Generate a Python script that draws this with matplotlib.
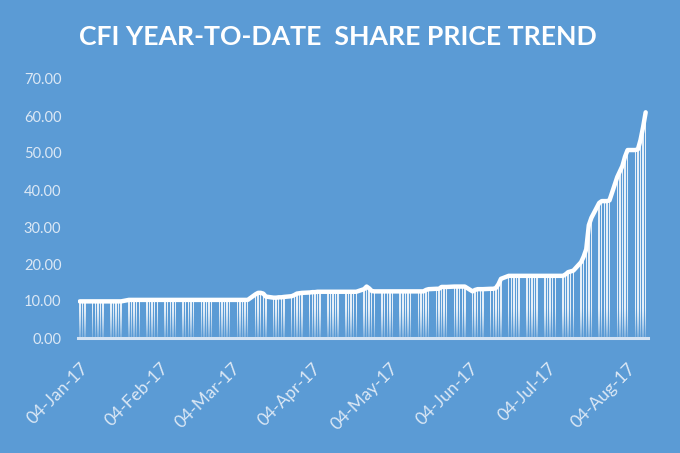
import numpy as np
import pandas as pd
import matplotlib
matplotlib.use("Agg")
import matplotlib.pyplot as plt
import matplotlib.dates as mdates
from matplotlib.colors import to_rgb

# ---- data (business days, 04-Jan-2017 .. 11-Aug-2017) ----
dates = pd.bdate_range("2017-01-04", "2017-08-11")
jan = [9.9]*13 + [10.3]*7
feb = [10.3]*20
mar = [10.3]*8 + [11.8, 12.2, 12.2, 12.0, 11.2] + [10.9, 10.9, 11.0, 11.0, 11.1] + [11.3, 11.6, 12.0, 12.1, 12.2]
apr = [12.3, 12.4, 12.4, 12.5, 12.5] + [12.5]*10 + [13.2, 13.9, 13.4, 12.7, 12.6]
may = [12.6]*10 + [12.6, 12.6, 12.6, 13.0, 13.2] + [13.3, 13.3, 13.8, 13.8, 13.8] + [13.9, 13.9, 13.9]
jun = [13.9, 13.9] + [12.6, 13.0, 13.2, 13.2, 13.2] + [13.3, 13.3, 13.5, 14.5, 16.0] + [16.8]*10
jul = [16.8]*5 + [16.8, 17.2, 17.8, 18.0, 18.2] + [20.5, 22.0, 24.0, 30.5, 32.5] + [36.5, 37.0, 37.0, 37.0, 37.2] + [43.5]
aug = [45.0, 46.5, 49.0, 50.8] + [50.8, 51.0, 53.5, 57.0, 61.0]
prices = jan + feb + mar + apr + may + jun + jul + aug

tick_dates = pd.to_datetime(["2017-01-04", "2017-02-04", "2017-03-04", "2017-04-04",
                             "2017-05-04", "2017-06-04", "2017-07-04", "2017-08-04"])
yticks = [0, 10, 20, 30, 40, 50, 60, 70]
title = "CFI YEAR-TO-DATE  SHARE PRICE TREND"

# ---- style ----
BG = "#5B9BD5"
TXT = "#DCE8F5"
font = "Lato"

fig = plt.figure(figsize=(6.8, 4.53), dpi=100, facecolor=BG)
ax = fig.add_axes([78/680, 1-338/453, (648-78)/680, (338-79)/453])
ax.set_facecolor(BG)

x = mdates.date2num(dates)
xmin = mdates.date2num(pd.Timestamp("2017-01-04")) - 0.7
xmax = mdates.date2num(pd.Timestamp("2017-08-11")) + 0.9

ax.bar(x, prices, width=0.55, color="white", alpha=0.85, linewidth=0, zorder=2)

# fading overlay near the base of the bars
n = 256
bg = np.array(to_rgb(BG))
grad = np.zeros((n, 2, 4))
grad[..., :3] = bg
alpha = np.linspace(0.85, 0.0, n) ** 1.3
grad[..., 3] = alpha[:, None]
ax.imshow(grad, extent=[xmin, xmax, 0, 8], origin="lower", aspect="auto",
          zorder=3, interpolation="bilinear")

ax.plot(x, prices, color="white", lw=3.2, solid_joinstyle="round",
        solid_capstyle="round", zorder=4)
ax.plot([xmin, xmax], [0, 0], color="#D4E3F3", lw=2.2, zorder=5, clip_on=False)

ax.set_xlim(xmin, xmax)
ax.set_ylim(0, 70)
for s in ax.spines.values():
    s.set_visible(False)

ax.set_yticks(yticks)
ax.set_yticklabels([f"{v:.2f}" for v in yticks], color=TXT, fontsize=10.5, family=font)
ax.set_xticks(mdates.date2num(tick_dates))
ax.set_xticklabels([d.strftime("%d-%b-%y") for d in tick_dates], color=TXT,
                   fontsize=12.5, family=font, rotation=45, ha="right",
                   va="top", rotation_mode="anchor")
ax.tick_params(axis="both", length=0)
ax.tick_params(axis="y", pad=12)
ax.tick_params(axis="x", pad=16)

fig.text(0.497, 1-37/453, title, color="white", fontsize=19.2, family=font,
         fontweight="bold", ha="center", va="center")

fig.savefig("out.png", dpi=100, facecolor=BG)
